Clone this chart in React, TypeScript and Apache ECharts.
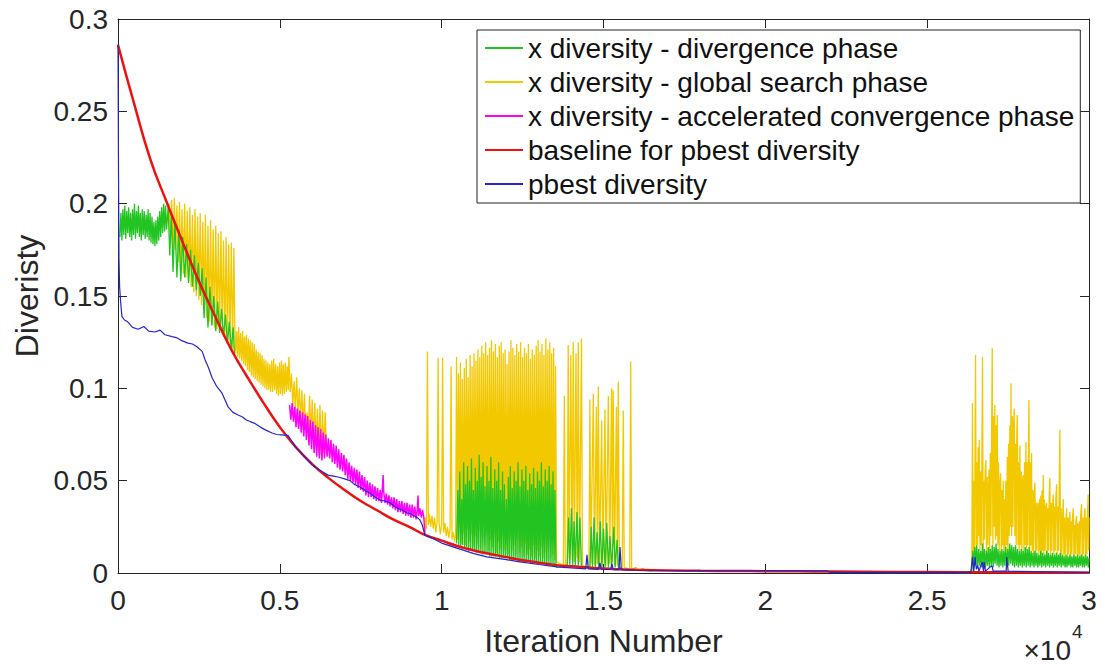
import React, { useEffect, useRef } from "react";
import * as echarts from "echarts";

const FONT = "'Liberation Sans', Arial, Helvetica, sans-serif";

const legendNames = [
  "x diversity - divergence phase",
  "x diversity - global search phase",
  "x diversity - accelerated convergence phase",
  "baseline for pbest diversity",
  "pbest diversity",
];

const xMin = 0;
const xMax = 30000;
const xStep = 5000;
const yMin = 0;
const yMax = 0.3;
const yStep = 0.05;

// baseline for pbest diversity
const redPts: number[][] = [
  [0, 0.286], [500, 0.254], [1000, 0.224], [1500, 0.201], [2000, 0.179], [2500, 0.158],
  [3000, 0.139], [3500, 0.121], [4000, 0.106], [4500, 0.092], [5000, 0.079], [5500, 0.068],
  [6000, 0.059], [6500, 0.0515], [7000, 0.045], [7500, 0.039], [8000, 0.034], [8500, 0.029],
  [9000, 0.025], [9500, 0.0205], [10000, 0.0175], [10500, 0.0145], [11000, 0.0122], [11500, 0.0103],
  [12000, 0.0086], [12500, 0.0069], [13000, 0.0056], [13500, 0.0044], [14000, 0.0036], [14500, 0.003],
  [15000, 0.0024], [15500, 0.002], [16000, 0.0017], [17000, 0.0014], [18000, 0.0012], [19000, 0.0011],
  [20000, 0.001], [21000, 0.0009], [22000, 0.0008], [24000, 0.0006], [26000, 0.0004], [28000, 0.0003],
  [30000, 0.0002],
];

// pbest diversity
const bluePts: number[][] = [
  [0, 0.286], [15, 0.22], [30, 0.17], [50, 0.155], [80, 0.147], [120, 0.139], [200, 0.137], [300, 0.136],
  [450, 0.133], [620, 0.132], [800, 0.1335], [950, 0.131], [1140, 0.1305], [1300, 0.1315], [1450, 0.129],
  [1670, 0.128], [1800, 0.1275], [1950, 0.126], [2160, 0.1245], [2300, 0.124], [2440, 0.1225], [2600, 0.12],
  [2690, 0.1155], [2800, 0.111], [2900, 0.106], [3050, 0.101], [3210, 0.0975], [3300, 0.094], [3400, 0.09],
  [3550, 0.087], [3710, 0.0856], [3850, 0.0845], [3950, 0.083], [4080, 0.082], [4230, 0.081], [4400, 0.079],
  [4550, 0.0775], [4760, 0.0758], [4900, 0.075], [5050, 0.0748], [5250, 0.0745], [5500, 0.068], [6000, 0.0585],
  [6300, 0.055], [6490, 0.053], [6650, 0.0525], [6800, 0.052], [7000, 0.051], [7170, 0.05], [7300, 0.048],
  [7480, 0.0466], [7650, 0.0445], [7800, 0.043], [7950, 0.041], [8100, 0.0395], [8250, 0.039], [8400, 0.038],
  [8550, 0.036], [8650, 0.035], [8800, 0.034], [8930, 0.0325], [9050, 0.032], [9150, 0.031], [9250, 0.03],
  [9330, 0.0287], [9400, 0.026], [9480, 0.0206], [9700, 0.019], [10000, 0.0162], [10470, 0.0135], [11000, 0.0105],
  [11400, 0.0087], [12000, 0.0072], [12420, 0.006], [13000, 0.0046], [13560, 0.0033], [14000, 0.0028],
  [14450, 0.0022], [14490, 0.0098], [14530, 0.0022], [14850, 0.002], [14890, 0.0055], [14930, 0.002],
  [15220, 0.0019], [15260, 0.005], [15300, 0.0019], [15480, 0.0018], [15510, 0.014], [15550, 0.0018],
  [16000, 0.0015], [18000, 0.0013], [21900, 0.0012], [22000, 0.0003], [26350, 0.0003], [26400, 0.0087],
  [26440, 0.001], [26480, 0.0087], [26520, 0.002], [26560, 0.004], [26600, 0.001], [26700, 0.006],
  [26740, 0.001], [26760, 0.006], [26800, 0.001], [27000, 0.004], [27040, 0.001], [27440, 0.001],
  [27460, 0.0087], [27500, 0.001], [30000, 0.0003],
];

// x diversity - divergence phase (green)
const greenEarly: number[][] = [
  [60, 0.182], [90, 0.195], [120, 0.18], [150, 0.197], [180, 0.183], [210, 0.199], [240, 0.181], [270, 0.196],
  [300, 0.184], [330, 0.198], [360, 0.182], [390, 0.195], [420, 0.18], [450, 0.197], [480, 0.183], [510, 0.2],
  [540, 0.181], [570, 0.196], [600, 0.184], [630, 0.199], [660, 0.182], [690, 0.195], [720, 0.18], [750, 0.197],
  [780, 0.183], [810, 0.196], [840, 0.181], [870, 0.194], [900, 0.182], [930, 0.197], [960, 0.18], [990, 0.195],
  [1020, 0.179], [1050, 0.193], [1080, 0.178], [1110, 0.19], [1140, 0.177], [1170, 0.191], [1200, 0.178],
  [1230, 0.193], [1260, 0.18], [1290, 0.196], [1320, 0.182], [1350, 0.198], [1380, 0.184], [1410, 0.2],
  [1440, 0.185], [1470, 0.199], [1500, 0.186], [1550, 0.198], [1600, 0.172], [1650, 0.195],
  [1700, 0.163], [1760, 0.19], [1820, 0.16], [1880, 0.186], [1940, 0.158], [2000, 0.182], [2060, 0.16],
  [2120, 0.178], [2180, 0.157], [2240, 0.175], [2300, 0.155], [2360, 0.172], [2420, 0.153], [2480, 0.168],
  [2540, 0.15], [2600, 0.165], [2660, 0.138], [2720, 0.16], [2780, 0.133], [2840, 0.155], [2900, 0.134],
  [2960, 0.15], [3020, 0.131], [3080, 0.147], [3140, 0.13], [3200, 0.143], [3260, 0.128], [3320, 0.14],
  [3380, 0.124], [3440, 0.136], [3500, 0.121], [3560, 0.133], [3600, 0.118],
];

const greenMid: number[][] = [
  [10460, 0.016], [10500, 0.045], [10530, 0.015], [10560, 0.055], [10590, 0.014], [10620, 0.04], [10650, 0.015],
  [10680, 0.06], [10710, 0.013], [10740, 0.048], [10770, 0.014], [10800, 0.058], [10830, 0.012], [10860, 0.05],
  [10890, 0.013], [10920, 0.062], [10950, 0.012], [10980, 0.045], [11010, 0.012], [11040, 0.057], [11070, 0.011],
  [11100, 0.05], [11130, 0.011], [11160, 0.064], [11190, 0.011], [11220, 0.052], [11250, 0.01], [11280, 0.06],
  [11310, 0.01], [11340, 0.047], [11370, 0.01], [11400, 0.058], [11430, 0.01], [11460, 0.05], [11490, 0.009],
  [11520, 0.063], [11550, 0.009], [11580, 0.046], [11610, 0.009], [11640, 0.056], [11670, 0.009], [11700, 0.05],
  [11730, 0.009], [11760, 0.06], [11790, 0.008], [11820, 0.045], [11850, 0.008], [11880, 0.055], [11910, 0.008],
  [11940, 0.048], [11970, 0.008], [12000, 0.04], [12030, 0.008], [12060, 0.052], [12090, 0.007], [12120, 0.058],
  [12150, 0.007], [12180, 0.046], [12210, 0.007], [12240, 0.055], [12270, 0.007], [12300, 0.05], [12330, 0.007],
  [12360, 0.06], [12390, 0.006], [12420, 0.047], [12450, 0.006], [12480, 0.056], [12510, 0.006], [12540, 0.05],
  [12570, 0.006], [12600, 0.058], [12630, 0.006], [12660, 0.045], [12690, 0.006], [12720, 0.054], [12750, 0.005],
  [12780, 0.048], [12810, 0.005], [12840, 0.057], [12870, 0.005], [12900, 0.046], [12930, 0.005], [12960, 0.055],
  [12990, 0.005], [13020, 0.05], [13050, 0.005], [13080, 0.06], [13110, 0.005], [13140, 0.047], [13170, 0.005],
  [13200, 0.056], [13230, 0.004], [13260, 0.05], [13290, 0.004], [13320, 0.058], [13350, 0.004], [13380, 0.048],
  [13410, 0.004], [13440, 0.055], [13470, 0.004], [13500, 0.045], [13530, 0.004], [13560, 0.003],
  [13880, 0.004], [13920, 0.03], [13960, 0.004], [14010, 0.035], [14050, 0.004], [14090, 0.028], [14130, 0.004],
  [14180, 0.033], [14220, 0.004], [14270, 0.03], [14320, 0.003], [14580, 0.003], [14620, 0.025], [14660, 0.003],
  [14710, 0.03], [14750, 0.003], [14800, 0.022], [14850, 0.003], [14900, 0.028], [14950, 0.003], [15000, 0.024],
  [15050, 0.003], [15100, 0.027], [15150, 0.003], [15200, 0.02], [15250, 0.003], [15320, 0.025], [15360, 0.003],
  [15420, 0.018], [15460, 0.003], [15600, 0.002],
];

const greenLate: number[][] = [
  [26380, 0.001], [26410, 0.012], [26440, 0.003], [26470, 0.014], [26500, 0.004], [26530, 0.015], [26560, 0.003],
  [26590, 0.013], [26620, 0.004], [26650, 0.012], [26680, 0.003], [26710, 0.016], [26740, 0.004], [26770, 0.013],
  [26800, 0.003], [26830, 0.012], [26860, 0.004], [26890, 0.014], [26920, 0.003], [26950, 0.013], [26980, 0.004],
  [27010, 0.015], [27040, 0.003], [27070, 0.014], [27100, 0.005], [27130, 0.016], [27160, 0.004], [27190, 0.013],
  [27220, 0.003], [27250, 0.012], [27280, 0.004], [27310, 0.013], [27340, 0.003], [27370, 0.012], [27400, 0.004],
  [27430, 0.014], [27460, 0.003], [27490, 0.013], [27520, 0.004], [27550, 0.016], [27580, 0.005], [27610, 0.015],
  [27640, 0.004], [27670, 0.014], [27700, 0.003], [27730, 0.015], [27760, 0.004], [27790, 0.013], [27820, 0.003],
  [27850, 0.012], [27880, 0.004], [27910, 0.013], [27940, 0.003], [27970, 0.012], [28000, 0.004], [28030, 0.014],
  [28060, 0.003], [28090, 0.013], [28120, 0.004], [28150, 0.014], [28180, 0.003], [28210, 0.012], [28240, 0.004],
  [28270, 0.011], [28300, 0.003], [28330, 0.012], [28360, 0.004], [28390, 0.011], [28420, 0.003], [28450, 0.01],
  [28480, 0.004], [28510, 0.012], [28540, 0.003], [28570, 0.011], [28600, 0.004], [28630, 0.01], [28660, 0.003],
  [28690, 0.012], [28720, 0.004], [28750, 0.011], [28780, 0.003], [28810, 0.01], [28840, 0.004], [28870, 0.011],
  [28900, 0.003], [28930, 0.01], [28960, 0.004], [28990, 0.011], [29020, 0.003], [29050, 0.01], [29080, 0.004],
  [29110, 0.011], [29140, 0.003], [29170, 0.01], [29200, 0.004], [29230, 0.009], [29260, 0.003], [29290, 0.01],
  [29320, 0.003], [29350, 0.009], [29380, 0.004], [29410, 0.01], [29440, 0.003], [29470, 0.009], [29500, 0.003],
  [29530, 0.01], [29560, 0.004], [29590, 0.009], [29620, 0.003], [29650, 0.01], [29680, 0.003], [29710, 0.009],
  [29740, 0.004], [29770, 0.01], [29800, 0.003], [29830, 0.009], [29860, 0.003], [29890, 0.01], [29920, 0.004],
  [29950, 0.009], [29980, 0.003], [30000, 0.008],
];

// x diversity - global search phase (yellow)
const yellowEarly: number[][] = [
  [1550, 0.195], [1580, 0.2], [1620, 0.178], [1660, 0.202], [1700, 0.172], [1740, 0.203], [1780, 0.175],
  [1820, 0.199], [1860, 0.168], [1900, 0.201], [1940, 0.165], [1980, 0.197], [2020, 0.162], [2060, 0.2],
  [2100, 0.16], [2140, 0.196], [2180, 0.158], [2220, 0.198], [2260, 0.155], [2300, 0.194], [2340, 0.152],
  [2380, 0.197], [2420, 0.15], [2460, 0.193], [2500, 0.148], [2540, 0.195], [2580, 0.145], [2620, 0.19],
  [2660, 0.142], [2700, 0.194], [2740, 0.138], [2780, 0.188], [2820, 0.136], [2860, 0.191], [2900, 0.134],
  [2940, 0.186], [2980, 0.133], [3020, 0.188], [3060, 0.132], [3100, 0.184], [3140, 0.131], [3180, 0.185],
  [3220, 0.129], [3260, 0.18], [3300, 0.127], [3340, 0.182], [3380, 0.125], [3420, 0.178], [3460, 0.123],
  [3500, 0.179], [3540, 0.121], [3580, 0.176], [3610, 0.133], [3640, 0.119], [3670, 0.131], [3700, 0.117],
  [3730, 0.133], [3760, 0.116], [3790, 0.13], [3820, 0.115], [3850, 0.131], [3880, 0.113], [3910, 0.128],
  [3940, 0.112], [3970, 0.129], [4000, 0.11], [4030, 0.127], [4060, 0.109], [4090, 0.126], [4120, 0.107],
  [4150, 0.125], [4180, 0.106], [4210, 0.124], [4240, 0.105], [4270, 0.121], [4300, 0.104], [4330, 0.12],
  [4360, 0.103], [4390, 0.119], [4420, 0.102], [4450, 0.118], [4480, 0.101], [4510, 0.116], [4540, 0.1],
  [4570, 0.115], [4600, 0.099], [4630, 0.114], [4660, 0.099], [4690, 0.113], [4720, 0.098], [4750, 0.115],
  [4780, 0.098], [4810, 0.116], [4840, 0.099], [4870, 0.113], [4900, 0.097], [4930, 0.112], [4960, 0.096],
  [4990, 0.114], [5020, 0.097], [5050, 0.115], [5080, 0.096], [5110, 0.113], [5140, 0.097], [5170, 0.114],
  [5200, 0.098], [5230, 0.112], [5260, 0.099], [5280, 0.117], [5320, 0.098], [5360, 0.108], [5400, 0.09],
  [5440, 0.104], [5480, 0.088], [5520, 0.106], [5560, 0.085], [5600, 0.1], [5640, 0.083], [5680, 0.099],
  [5720, 0.08], [5760, 0.097], [5800, 0.078], [5840, 0.087], [5880, 0.076], [5920, 0.096], [5960, 0.074],
  [6000, 0.094], [6040, 0.07], [6080, 0.092], [6120, 0.068], [6160, 0.089], [6200, 0.066], [6240, 0.091],
  [6280, 0.064], [6320, 0.088], [6360, 0.065], [6400, 0.087], [6440, 0.068],
];

const yellowMid: number[][] = [
  [9480, 0.021], [9500, 0.03], [9530, 0.024], [9560, 0.12], [9590, 0.026], [9620, 0.032], [9660, 0.025],
  [9700, 0.031], [9740, 0.024], [9780, 0.03], [9820, 0.022], [9860, 0.028], [9890, 0.1165], [9920, 0.027],
  [9960, 0.021], [10000, 0.026], [10030, 0.1165], [10060, 0.022], [10100, 0.027], [10140, 0.02], [10180, 0.025],
  [10220, 0.019], [10260, 0.024], [10290, 0.112], [10320, 0.018], [10360, 0.022], [10400, 0.017], [10430, 0.02],
  [10460, 0.117], [10490, 0.018], [10520, 0.108], [10550, 0.025], [10580, 0.114], [10610, 0.016], [10640, 0.105],
  [10670, 0.022], [10700, 0.111], [10730, 0.015], [10760, 0.116], [10790, 0.024], [10820, 0.106], [10850, 0.017],
  [10880, 0.118], [10910, 0.021], [10940, 0.112], [10970, 0.014], [11000, 0.119], [11030, 0.02], [11060, 0.115],
  [11090, 0.016], [11120, 0.121], [11150, 0.023], [11180, 0.117], [11210, 0.013], [11240, 0.123], [11270, 0.019],
  [11300, 0.119], [11330, 0.015], [11360, 0.125], [11390, 0.022], [11420, 0.118], [11450, 0.012], [11480, 0.122],
  [11510, 0.018], [11540, 0.126], [11570, 0.014], [11600, 0.12], [11630, 0.021], [11660, 0.124], [11690, 0.011],
  [11720, 0.117], [11750, 0.017], [11780, 0.123], [11810, 0.013], [11840, 0.125], [11870, 0.02], [11900, 0.119],
  [11930, 0.012], [11960, 0.121], [11990, 0.016], [12020, 0.113], [12050, 0.01], [12080, 0.12], [12110, 0.018],
  [12140, 0.126], [12170, 0.012], [12200, 0.122], [12230, 0.015], [12260, 0.118], [12290, 0.01], [12320, 0.124],
  [12350, 0.017], [12380, 0.12], [12410, 0.011], [12440, 0.125], [12470, 0.014], [12500, 0.117], [12530, 0.009],
  [12560, 0.122], [12590, 0.016], [12620, 0.119], [12650, 0.01], [12680, 0.124], [12710, 0.013], [12740, 0.116],
  [12770, 0.009], [12800, 0.121], [12830, 0.015], [12860, 0.118], [12890, 0.008], [12920, 0.123], [12950, 0.012],
  [12980, 0.126], [13010, 0.009], [13040, 0.12], [13070, 0.014], [13100, 0.124], [13130, 0.008], [13160, 0.118],
  [13190, 0.011], [13220, 0.127], [13250, 0.007], [13280, 0.121], [13310, 0.013], [13340, 0.125], [13370, 0.008],
  [13400, 0.119], [13430, 0.01], [13460, 0.122], [13490, 0.007], [13520, 0.112], [13550, 0.006],
  [13760, 0.004], [13790, 0.096], [13820, 0.004], [13880, 0.005], [13910, 0.1235], [13940, 0.008], [13990, 0.118],
  [14030, 0.007], [14065, 0.125], [14100, 0.006], [14150, 0.119], [14190, 0.008], [14220, 0.125], [14260, 0.006],
  [14320, 0.127], [14350, 0.004], [14550, 0.003], [14580, 0.094], [14610, 0.005], [14685, 0.097], [14720, 0.004],
  [14780, 0.09], [14810, 0.005], [14840, 0.101], [14880, 0.004], [14943, 0.0826], [14980, 0.005], [15045, 0.0885],
  [15080, 0.004], [15150, 0.0958], [15190, 0.005], [15250, 0.1], [15275, 0.006], [15300, 0.099], [15340, 0.004],
  [15400, 0.09], [15430, 0.004], [15457, 0.1036], [15490, 0.003], [15580, 0.003], [15611, 0.088], [15640, 0.003],
  [15810, 0.002], [15840, 0.1145], [15870, 0.002], [16000, 0.003], [16100, 0.0015], [16200, 0.0025],
  [16350, 0.0012], [16500, 0.001],
];

const yellowLate: number[][] = [
  [26350, 0.001], [26380, 0.003], [26400, 0.092], [26420, 0.008], [26440, 0.05], [26460, 0.012], [26480, 0.07],
  [26495, 0.118], [26515, 0.01], [26535, 0.06], [26555, 0.015], [26575, 0.068], [26595, 0.02], [26610, 0.072],
  [26630, 0.012], [26650, 0.055], [26670, 0.015], [26690, 0.06], [26710, 0.117], [26730, 0.012], [26750, 0.05],
  [26770, 0.018], [26790, 0.055], [26815, 0.061], [26835, 0.01], [26855, 0.052], [26875, 0.015], [26895, 0.045],
  [26910, 0.056], [26930, 0.012], [26950, 0.065], [26970, 0.02], [26990, 0.07], [27010, 0.1217], [27030, 0.015],
  [27050, 0.085], [27070, 0.025], [27090, 0.091], [27110, 0.018], [27130, 0.08], [27150, 0.02], [27165, 0.0855],
  [27185, 0.015], [27205, 0.06], [27225, 0.012], [27245, 0.048], [27270, 0.054], [27290, 0.01], [27310, 0.045],
  [27330, 0.015], [27350, 0.05], [27370, 0.01], [27390, 0.04], [27410, 0.012], [27430, 0.05], [27455, 0.015],
  [27475, 0.063], [27495, 0.012], [27515, 0.07], [27535, 0.02], [27555, 0.08], [27575, 0.025], [27590, 0.1027],
  [27610, 0.02], [27630, 0.085], [27650, 0.025], [27670, 0.08], [27690, 0.089], [27710, 0.02], [27730, 0.07],
  [27750, 0.015], [27770, 0.075], [27785, 0.0855], [27805, 0.015], [27825, 0.06], [27845, 0.012], [27865, 0.069],
  [27885, 0.015], [27905, 0.055], [27925, 0.01], [27945, 0.05], [27970, 0.053], [27990, 0.012], [28010, 0.06],
  [28030, 0.015], [28050, 0.071], [28070, 0.012], [28090, 0.06], [28110, 0.015], [28130, 0.07], [28145, 0.0937],
  [28165, 0.012], [28185, 0.06], [28205, 0.015], [28225, 0.065], [28245, 0.012], [28265, 0.045], [28285, 0.01],
  [28305, 0.042], [28330, 0.049], [28350, 0.01], [28370, 0.038], [28390, 0.012], [28410, 0.036], [28430, 0.038],
  [28450, 0.01], [28470, 0.04], [28490, 0.012], [28510, 0.042], [28530, 0.01], [28550, 0.045], [28570, 0.012],
  [28585, 0.053], [28605, 0.01], [28625, 0.04], [28645, 0.012], [28665, 0.036], [28690, 0.038], [28710, 0.01],
  [28730, 0.035], [28750, 0.012], [28770, 0.04], [28790, 0.0515], [28810, 0.01], [28830, 0.038], [28850, 0.012],
  [28870, 0.035], [28895, 0.0425], [28915, 0.01], [28935, 0.036], [28955, 0.012], [28975, 0.04], [29000, 0.048],
  [29020, 0.01], [29040, 0.036], [29060, 0.012], [29080, 0.045], [29100, 0.0775], [29120, 0.01], [29140, 0.035],
  [29160, 0.01], [29185, 0.032], [29205, 0.04], [29225, 0.008], [29245, 0.03], [29265, 0.01], [29290, 0.028],
  [29310, 0.035], [29330, 0.008], [29350, 0.03], [29370, 0.01], [29390, 0.028], [29410, 0.033], [29430, 0.008],
  [29450, 0.028], [29470, 0.01], [29490, 0.03], [29515, 0.035], [29535, 0.008], [29555, 0.026], [29575, 0.01],
  [29595, 0.028], [29615, 0.031], [29635, 0.008], [29655, 0.027], [29675, 0.01], [29700, 0.028], [29720, 0.008],
  [29745, 0.032], [29770, 0.0375], [29790, 0.008], [29810, 0.03], [29830, 0.01], [29850, 0.028], [29875, 0.035],
  [29895, 0.008], [29915, 0.03], [29935, 0.01], [29955, 0.033], [29975, 0.0425], [29990, 0.012], [30000, 0.03],
];

// x diversity - accelerated convergence phase (magenta)
const magentaPts: number[][] = [
  [5300, 0.091], [5340, 0.083], [5380, 0.092], [5420, 0.082], [5460, 0.09], [5500, 0.079], [5540, 0.089],
  [5580, 0.078], [5620, 0.088], [5660, 0.076], [5700, 0.087], [5740, 0.074], [5780, 0.086], [5820, 0.072],
  [5860, 0.085], [5900, 0.069], [5940, 0.083], [5980, 0.067], [6020, 0.082], [6060, 0.065], [6100, 0.08],
  [6140, 0.063], [6180, 0.079], [6220, 0.062], [6260, 0.078], [6300, 0.061], [6340, 0.076], [6380, 0.062],
  [6420, 0.075], [6460, 0.063], [6500, 0.073], [6540, 0.062], [6580, 0.072], [6620, 0.06], [6660, 0.07],
  [6700, 0.059], [6740, 0.069], [6780, 0.057], [6820, 0.067], [6860, 0.056], [6900, 0.065], [6940, 0.055],
  [6980, 0.064], [7020, 0.053], [7060, 0.062], [7100, 0.051], [7140, 0.06], [7180, 0.05], [7220, 0.058],
  [7260, 0.049], [7300, 0.057], [7340, 0.048], [7380, 0.056], [7420, 0.046], [7460, 0.055], [7500, 0.045],
  [7540, 0.053], [7580, 0.044], [7620, 0.052], [7660, 0.042], [7700, 0.05], [7740, 0.041], [7780, 0.049],
  [7820, 0.041], [7860, 0.048], [7900, 0.04], [7940, 0.047], [7980, 0.039], [8020, 0.046], [8060, 0.039],
  [8100, 0.045], [8140, 0.038], [8170, 0.046], [8190, 0.053], [8210, 0.044], [8250, 0.038], [8290, 0.043],
  [8330, 0.037], [8370, 0.042], [8410, 0.036], [8450, 0.041], [8490, 0.035], [8530, 0.041], [8570, 0.034],
  [8610, 0.04], [8650, 0.033], [8690, 0.039], [8730, 0.033], [8770, 0.039], [8810, 0.032], [8850, 0.038],
  [8890, 0.031], [8930, 0.038], [8970, 0.031], [9010, 0.037], [9050, 0.03], [9090, 0.037], [9130, 0.03],
  [9170, 0.036], [9210, 0.029], [9250, 0.035], [9270, 0.042], [9290, 0.031], [9330, 0.035], [9370, 0.03],
  [9410, 0.034], [9450, 0.03], [9480, 0.021],
];

const GREEN = "#22c422";
const YELLOW = "#f2c800";
const MAGENTA = "#ff00ff";
const RED = "#ee1111";
const BLUE = "#2525cc";
const AXIS = "#262626";

function line(name: string, data: number[][], color: string, width: number, smooth = false) {
  return {
    type: "line",
    name,
    data,
    symbol: "none",
    showSymbol: false,
    smooth,
    lineStyle: { color, width },
    itemStyle: { color },
    emphasis: { disabled: true },
    silent: true,
    z: 2,
  };
}

export default function App() {
  const ref = useRef<HTMLDivElement>(null);
  useEffect(() => {
    document.body.style.margin = "0";
    if (!ref.current) return;
    const chart = echarts.init(ref.current, null, { renderer: "svg" });
    const axisLineStyle = { color: AXIS, width: 1 };
    chart.setOption({
      animation: false,
      backgroundColor: "#ffffff",
      grid: { left: 118, right: 16, top: 19, bottom: 95, containLabel: false },
      xAxis: [
        {
          type: "value",
          min: xMin,
          max: xMax,
          interval: xStep,
          position: "bottom",
          axisLine: { show: true, onZero: false, lineStyle: axisLineStyle },
          axisTick: { show: true, inside: true, length: 9, lineStyle: axisLineStyle },
          axisLabel: {
            color: AXIS,
            fontSize: 28,
            fontFamily: FONT,
            margin: 13,
            formatter: (v: number) => String(v / 10000),
          },
          splitLine: { show: false },
          name: "Iteration Number",
          nameLocation: "middle",
          nameGap: 52,
          nameTextStyle: { color: AXIS, fontSize: 32, fontFamily: FONT },
        },
        {
          type: "value",
          min: xMin,
          max: xMax,
          interval: xStep,
          position: "top",
          axisLine: { show: true, onZero: false, lineStyle: axisLineStyle },
          axisTick: { show: true, inside: true, length: 9, lineStyle: axisLineStyle },
          axisLabel: { show: false },
          splitLine: { show: false },
        },
      ],
      yAxis: [
        {
          type: "value",
          min: yMin,
          max: yMax,
          interval: yStep,
          position: "left",
          axisLine: { show: true, onZero: false, lineStyle: axisLineStyle },
          axisTick: { show: true, inside: true, length: 9, lineStyle: axisLineStyle },
          axisLabel: {
            color: AXIS,
            fontSize: 28,
            fontFamily: FONT,
            margin: 10,
            formatter: (v: number) => String(Number(v.toFixed(2))),
          },
          splitLine: { show: false },
          name: "Diveristy",
          nameLocation: "middle",
          nameGap: 72,
          nameTextStyle: { color: AXIS, fontSize: 32, fontFamily: FONT },
        },
        {
          type: "value",
          min: yMin,
          max: yMax,
          interval: yStep,
          position: "right",
          axisLine: { show: true, onZero: false, lineStyle: axisLineStyle },
          axisTick: { show: true, inside: true, length: 9, lineStyle: axisLineStyle },
          axisLabel: { show: false },
          splitLine: { show: false },
        },
      ],
      legend: {
        data: legendNames,
        orient: "vertical",
        left: 477,
        top: 30,
        itemWidth: 38,
        itemHeight: 14,
        itemGap: 4,
        padding: [3, 6, 4, 7],
        backgroundColor: "#ffffff",
        borderColor: "#222222",
        borderWidth: 1,
        borderRadius: 0,
        selectedMode: false,
        itemStyle: { opacity: 0 },
        textStyle: { color: "#111111", fontSize: 28, fontFamily: FONT, lineHeight: 30 },
      },
      graphic: [
        {
          type: "text",
          x: 1071,
          y: 664,
          style: { text: "\u00d710", fontSize: 28, fontFamily: FONT, fill: AXIS, align: "right", verticalAlign: "bottom" },
        },
        {
          type: "text",
          x: 1072,
          y: 622,
          style: { text: "4", fontSize: 19, fontFamily: FONT, fill: AXIS, align: "left", verticalAlign: "top" },
        },
      ],
      series: [
        line(legendNames[1], yellowEarly, YELLOW, 1.3),
        line(legendNames[1], yellowMid, YELLOW, 1.3),
        line(legendNames[1], yellowLate, YELLOW, 1.3),
        line(legendNames[0], greenEarly, GREEN, 1.3),
        line(legendNames[0], greenMid, GREEN, 1.3),
        line(legendNames[0], greenLate, GREEN, 1.3),
        line(legendNames[2], magentaPts, MAGENTA, 1.5),
        line(legendNames[3], redPts, RED, 2.5, true),
        line(legendNames[4], bluePts, BLUE, 1.2),
      ],
    });
    return () => chart.dispose();
  }, []);
  return <div ref={ref} style={{ width: 1105, height: 668 }} />;
}
